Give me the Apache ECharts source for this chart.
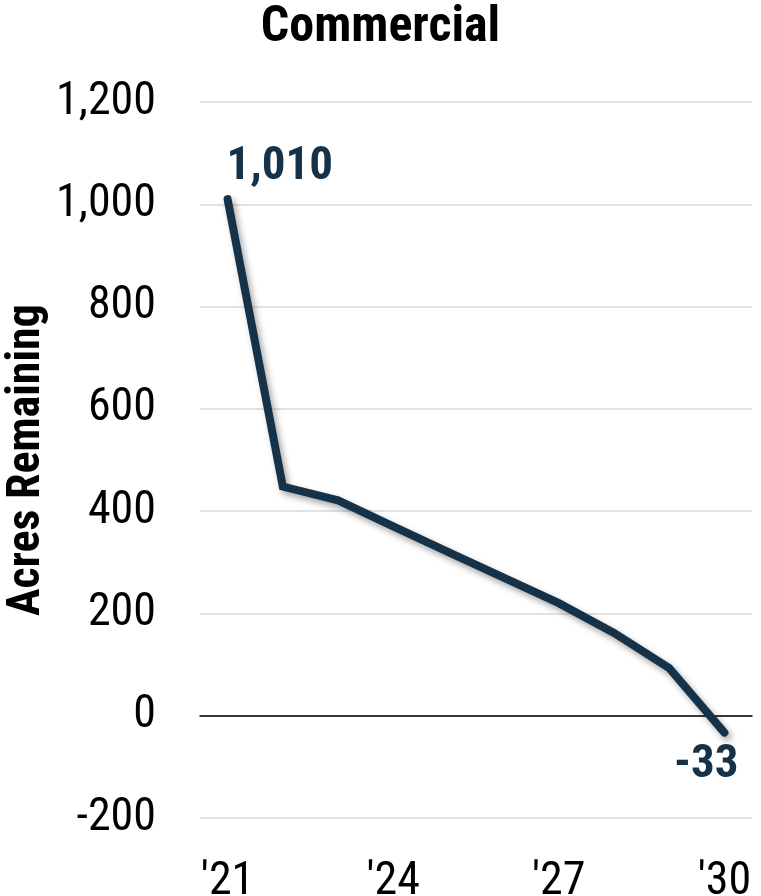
<!DOCTYPE html>
<html>
<head>
<meta charset="utf-8">
<script src="https://cdn.jsdelivr.net/npm/echarts@6/dist/echarts.min.js"></script>
<style>
  html, body { margin: 0; padding: 0; background: #ffffff; }
  #chart { width: 761px; height: 896px; }
</style>
</head>
<body>
<div id="chart"></div>
<script>
// Commercial land: acres remaining by year
const years = ["'21", "'22", "'23", "'24", "'25", "'26", "'27", "'28", "'29", "'30"];
const acresRemaining = [1010, 448, 421, 370, 320, 270, 220, 162, 93, -33];
const yTicks = { min: -200, max: 1200, step: 200 };

const NAVY = '#153249';
const COND = '"Roboto Condensed", "Open Sans", sans-serif';

// Only the first and last points carry a value label
const lastIdx = acresRemaining.length - 1;
const seriesData = acresRemaining.map((v, i) => {
  if (i === 0) {
    return { value: v, label: { show: true, position: 'top', align: 'left', offset: [-1, -3] } };
  }
  if (i === lastIdx) {
    return { value: v, label: { show: true, position: 'bottom', align: 'right', offset: [14, 4] } };
  }
  return v;
});

const chart = echarts.init(document.getElementById('chart'), null, { renderer: 'canvas' });
chart.setOption({
  animation: false,
  backgroundColor: '#ffffff',
  title: {
    text: 'Commercial',
    left: 'center',
    top: -2,
    textStyle: { fontFamily: COND, fontWeight: 'bold', fontSize: 50, color: '#000000' }
  },
  grid: { left: 200, right: 9, top: 102, bottom: 78, outerBoundsMode: 'none', containLabel: false },
  xAxis: {
    type: 'category',
    data: years,
    boundaryGap: true,
    axisLine: { show: true, onZero: true, lineStyle: { color: '#000000', width: 1.5 } },
    axisTick: { show: false },
    axisLabel: {
      interval: 2,
      margin: 41,
      fontFamily: COND,
      fontSize: 46,
      color: '#000000'
    },
    splitLine: { show: false }
  },
  yAxis: {
    type: 'value',
    min: yTicks.min,
    max: yTicks.max,
    interval: yTicks.step,
    name: 'Acres Remaining',
    nameLocation: 'middle',
    nameRotate: 90,
    nameGap: 150,
    nameMoveOverlap: false,
    nameTextStyle: { fontFamily: COND, fontWeight: 'bold', fontSize: 46, color: '#000000' },
    axisLine: { show: false },
    axisTick: { show: false },
    axisLabel: {
      margin: 44,
      fontFamily: COND,
      fontSize: 46,
      color: '#000000',
      formatter: v => v.toLocaleString('en-US')
    },
    splitLine: { show: true, lineStyle: { color: '#d9d9d9', width: 1.5 } }
  },
  series: [{
    type: 'line',
    data: seriesData,
    showSymbol: true,
    showAllSymbol: true,
    symbol: 'circle',
    symbolSize: 1,
    itemStyle: { color: NAVY },
    lineStyle: {
      color: NAVY,
      width: 8,
      cap: 'round',
      join: 'miter',
      shadowColor: 'rgba(0,0,0,0.35)',
      shadowBlur: 6,
      shadowOffsetX: 3,
      shadowOffsetY: 4
    },
    label: {
      show: false,
      fontFamily: COND,
      fontWeight: 'bold',
      fontSize: 47,
      color: NAVY,
      formatter: p => p.value.toLocaleString('en-US')
    },
    z: 3
  }]
});
</script>
</body>
</html>
